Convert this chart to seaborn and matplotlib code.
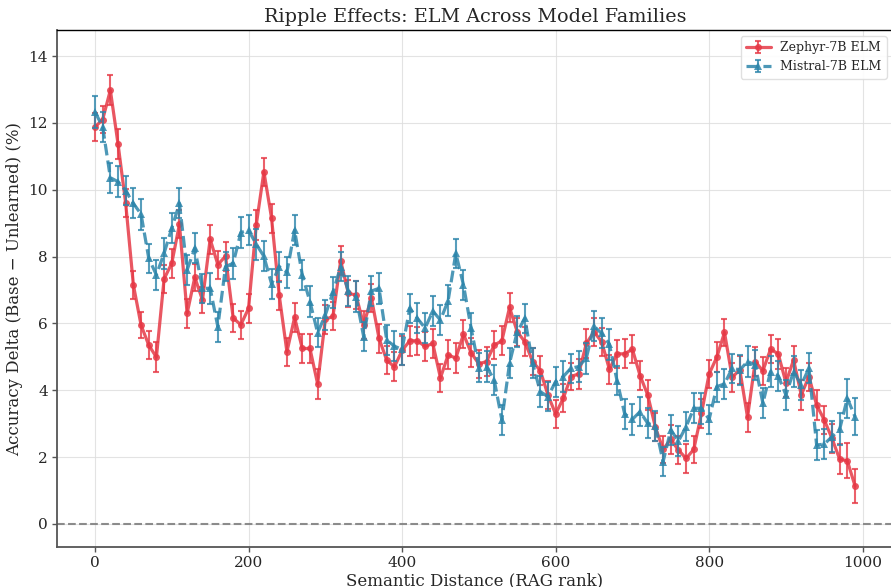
import numpy as np
import pandas as pd
import matplotlib
matplotlib.use("Agg")
import matplotlib.pyplot as plt
import seaborn as sns
from matplotlib.legend_handler import HandlerTuple

rank = list(range(0, 1000, 10))

zephyr = [11.88, 12.10, 12.98, 11.37, 9.59, 7.15, 5.95, 5.35, 4.99, 7.33,
          7.80, 8.97, 6.30, 7.38, 6.70, 8.52, 7.76, 8.01, 6.16, 5.96,
          6.45, 8.94, 10.54, 9.15, 6.84, 5.15, 6.18, 5.25, 5.25, 4.19,
          6.12, 6.21, 7.88, 6.90, 6.85, 5.95, 6.77, 5.55, 4.90, 4.70,
          5.19, 5.48, 5.48, 5.31, 5.40, 4.37, 5.06, 4.96, 5.68, 5.12,
          4.79, 4.86, 5.35, 5.48, 6.48, 5.75, 5.45, 4.86, 4.59, 3.86,
          3.29, 3.76, 4.41, 4.49, 5.40, 5.75, 5.45, 4.63, 5.09, 5.09,
          5.23, 4.44, 3.86, 2.89, 2.23, 2.53, 2.21, 1.96, 2.23, 3.31,
          4.49, 4.99, 5.73, 4.39, 4.61, 3.19, 4.86, 4.58, 5.23, 5.09,
          4.23, 4.91, 3.86, 4.41, 3.56, 3.11, 2.56, 1.94, 1.89, 1.14]

mistral = [12.33, 11.88, 10.36, 10.24, 9.97, 9.59, 9.27, 7.95, 7.45, 8.10,
           8.85, 9.59, 7.60, 8.25, 7.05, 7.05, 5.90, 7.70, 7.80, 8.72,
           8.79, 8.37, 8.01, 7.18, 7.70, 7.53, 8.79, 7.45, 6.65, 5.72,
           6.25, 6.93, 7.70, 6.97, 6.80, 5.60, 6.97, 7.05, 5.50, 5.32,
           5.22, 6.45, 6.15, 5.86, 6.37, 6.10, 6.68, 8.10, 7.15, 5.85,
           4.68, 4.71, 4.31, 3.11, 4.81, 5.75, 6.15, 4.81, 3.96, 3.81,
           4.26, 4.41, 4.66, 4.71, 4.96, 5.92, 5.70, 5.38, 4.29, 3.29,
           3.13, 3.36, 3.01, 2.93, 1.86, 2.81, 2.48, 2.91, 3.46, 3.46,
           3.13, 4.11, 4.19, 4.66, 4.61, 4.86, 4.76, 3.61, 4.56, 4.43,
           3.86, 4.56, 4.16, 4.66, 2.36, 2.39, 2.61, 2.83, 3.76, 3.21]

zephyr_err = [0.42, 0.40, 0.45, 0.44, 0.42, 0.43, 0.40, 0.41, 0.44, 0.42,
              0.43, 0.42, 0.44, 0.41, 0.40, 0.44, 0.42, 0.43, 0.41, 0.42,
              0.43, 0.44, 0.42, 0.43, 0.44, 0.41, 0.43, 0.42, 0.42, 0.44,
              0.43, 0.42, 0.44, 0.41, 0.42, 0.43, 0.42, 0.44, 0.41, 0.43,
              0.42, 0.44, 0.42, 0.43, 0.42, 0.41, 0.43, 0.44, 0.42, 0.43,
              0.42, 0.44, 0.41, 0.43, 0.44, 0.42, 0.43, 0.41, 0.44, 0.42,
              0.43, 0.42, 0.41, 0.44, 0.43, 0.42, 0.41, 0.44, 0.42, 0.43,
              0.42, 0.43, 0.44, 0.42, 0.41, 0.43, 0.42, 0.44, 0.41, 0.43,
              0.42, 0.44, 0.41, 0.43, 0.42, 0.44, 0.42, 0.43, 0.42, 0.44,
              0.43, 0.42, 0.44, 0.42, 0.45, 0.43, 0.44, 0.45, 0.52, 0.51]

mistral_err = [0.47, 0.44, 0.45, 0.46, 0.44, 0.45, 0.46, 0.44, 0.45, 0.46,
               0.44, 0.45, 0.46, 0.45, 0.44, 0.46, 0.45, 0.44, 0.46, 0.45,
               0.44, 0.46, 0.45, 0.44, 0.45, 0.46, 0.44, 0.45, 0.46, 0.44,
               0.45, 0.46, 0.44, 0.45, 0.46, 0.44, 0.45, 0.46, 0.44, 0.45,
               0.46, 0.44, 0.45, 0.46, 0.44, 0.45, 0.46, 0.44, 0.45, 0.46,
               0.44, 0.45, 0.46, 0.44, 0.45, 0.46, 0.44, 0.45, 0.46, 0.44,
               0.45, 0.46, 0.44, 0.45, 0.46, 0.44, 0.45, 0.46, 0.44, 0.45,
               0.46, 0.44, 0.45, 0.46, 0.44, 0.45, 0.46, 0.44, 0.45, 0.46,
               0.44, 0.45, 0.46, 0.44, 0.45, 0.46, 0.44, 0.45, 0.46, 0.44,
               0.45, 0.46, 0.44, 0.45, 0.45, 0.44, 0.46, 0.48, 0.58, 0.56]

RED = "#E63946"
BLUE = "#2E86AB"

sns.set_theme(style="whitegrid")
plt.rcParams["font.family"] = ["DejaVu Serif"]
plt.rcParams["axes.edgecolor"] = "#555555"

df = pd.DataFrame({"rank": rank, "zephyr": zephyr, "mistral": mistral})

fig = plt.figure(figsize=(8.91, 5.87), dpi=100)
ax = fig.add_axes([57 / 891, 40 / 587, 836 / 891, 517 / 587])
ax.set_facecolor("white")

sns.lineplot(data=df, x="rank", y="zephyr", ax=ax, color=RED, lw=2.3,
             marker="o", markersize=5, markeredgewidth=0, alpha=0.85,
             legend=False)
line1 = ax.lines[-1]
eb1 = ax.errorbar(rank, zephyr, yerr=zephyr_err, fmt="none", ecolor=RED,
                  elinewidth=1.5, capsize=2.5, capthick=1.5, alpha=0.8)
sns.lineplot(data=df, x="rank", y="mistral", ax=ax, color=BLUE, lw=2.3,
             linestyle="--", marker="^", markersize=5.5, markeredgewidth=0,
             alpha=0.85, legend=False)
line2 = [l for l in ax.lines if l.get_marker() == "^"][0]
eb2 = ax.errorbar(rank, mistral, yerr=mistral_err, fmt="none", ecolor=BLUE,
                  elinewidth=1.5, capsize=2.5, capthick=1.5, alpha=0.8)

ax.axhline(0, color="#808080", linestyle="--", lw=1.5, alpha=0.9, zorder=1)

ax.set_xlim(-49.5, 1039.5)
ax.set_ylim(-0.69, 14.78)
ax.set_xticks([0, 200, 400, 600, 800, 1000])
ax.set_yticks([0, 2, 4, 6, 8, 10, 12, 14])
ax.grid(True, color="#dddddd", lw=0.8, alpha=0.8)
ax.tick_params(axis="both", labelsize=11, length=3.5, width=1, color="#555555",
               bottom=True, left=True, pad=3)
for s in ["left", "bottom"]:
    ax.spines[s].set_color("#555555")
    ax.spines[s].set_linewidth(1.3)
ax.spines["top"].set_color("black")
ax.spines["top"].set_linewidth(1.0)
ax.spines["right"].set_visible(False)

ax.set_title("Ripple Effects: ELM Across Model Families", fontsize=13.8, pad=6)
ax.set_xlabel("Semantic Distance (RAG rank)", fontsize=12, labelpad=1.5)
ax.set_ylabel("Accuracy Delta (Base \u2212 Unlearned) (%)", fontsize=12)

leg = ax.legend([(line1, eb1), (line2, eb2)],
                ["Zephyr-7B ELM", "Mistral-7B ELM"],
                handler_map={tuple: HandlerTuple(ndivide=1)},
                loc="upper right", fontsize=9, frameon=True, framealpha=0.9,
                edgecolor="#dddddd", borderpad=0.4, handlelength=2.0,
                borderaxespad=0.5)

fig.savefig("out.png", dpi=100)
